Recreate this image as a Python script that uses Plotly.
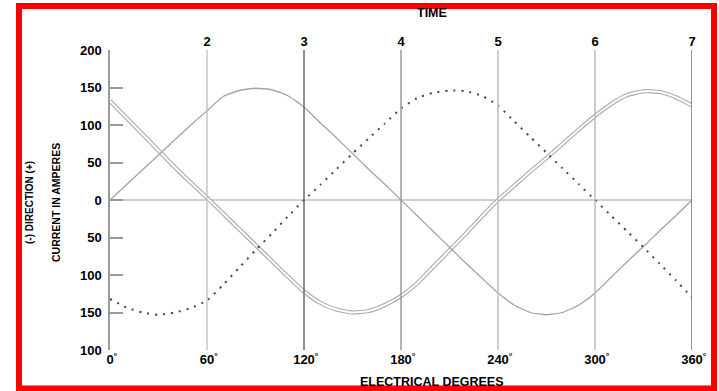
import plotly.graph_objects as go

# ---------------- data ----------------
degrees = [0, 10, 20, 30, 40, 50, 60, 70, 80, 90, 100, 110, 120, 130, 140, 150, 160, 170, 180,
           190, 200, 210, 220, 230, 240, 250, 260, 270, 280, 290, 300, 310, 320, 330, 340, 350, 360]

# single solid gray line
current_a = [0, 20, 40, 60, 80, 100, 119, 138, 146, 149, 147, 139, 124, 103, 83, 62, 41, 21, 0,
             -21, -42, -63, -84, -104, -124, -140, -150, -153, -150, -140, -124, -103, -82, -62, -41, -21, 0]

# double-stroked line
current_b = [132, 110, 88, 66, 44, 23, 3, -18, -39, -60, -81, -102, -122, -137, -146, -150, -148, -140, -128,
             -111, -89, -67, -45, -22, 0, 19, 38, 56, 75, 94, 112, 128, 140, 145, 144, 137, 126]

# dotted line
current_c = [-132, -143, -150, -153, -150, -144, -134, -113, -90, -67, -45, -22, 0, 20, 41, 62, 82, 102, 122,
             136, 143, 146, 145, 139, 126, 105, 84, 63, 42, 21, 0, -21, -42, -63, -85, -107, -130]

time_degrees = [60, 120, 180, 240, 300, 360]
time_labels = ["2", "3", "4", "5", "6", "7"]
time_line_colors = ["#c4c4c4", "#6a6a6a", "#9a9a9a", "#bdbdbd", "#bdbdbd", "#707070"]

x_tick_vals = [0, 60, 120, 180, 240, 300, 360]
y_tick_vals = [-200, -150, -100, -50, 0, 50, 100, 150, 200]
y_tick_text = ["100", "150", "100", "50", "0", "50", "100", "150", "200"]

# ---------------- figure ----------------
W, H = 719, 391
ML, MR, MT, MB = 110, 27, 50, 41
PW, PH = W - ML - MR, H - MT - MB

def px2paper(px, py):
    return (px - ML) / PW, (H - MB - py) / PH

FONT = "Liberation Sans, Arial, Helvetica, sans-serif"

fig = go.Figure()

# vertical time lines on the top axis
for d, c in zip(time_degrees, time_line_colors):
    fig.add_trace(go.Scatter(x=[d, d], y=[-200, 200], xaxis="x2", mode="lines",
                             line=dict(color=c, width=1.5), hoverinfo="skip", showlegend=False))

SPL = dict(shape="spline", smoothing=0.5)
# double line: gray stroke with white core
fig.add_trace(go.Scatter(x=degrees, y=current_b, mode="lines", line=dict(color="#a9a9a9", width=4.2, **SPL),
                         showlegend=False, hoverinfo="skip"))
fig.add_trace(go.Scatter(x=degrees, y=current_b, mode="lines", line=dict(color="white", width=2.0, **SPL),
                         showlegend=False, hoverinfo="skip"))
# single solid line
fig.add_trace(go.Scatter(x=degrees, y=current_a, mode="lines", line=dict(color="#a4a4a4", width=1.3, **SPL),
                         showlegend=False))
# dotted line
fig.add_trace(go.Scatter(x=degrees, y=current_c, mode="lines",
                         line=dict(color="#4a4a4a", width=2, dash="2px,6px", **SPL),
                         showlegend=False))

deg_text = ["<sup><span style='color:rgba(0,0,0,0)'>°</span></sup>%d<sup>°</sup>" % v for v in x_tick_vals]

fig.update_layout(
    width=W, height=H,
    margin=dict(l=ML, r=MR, t=MT, b=MB, pad=0),
    paper_bgcolor="white", plot_bgcolor="white",
    font=dict(family=FONT, color="black"),
    xaxis=dict(range=[0, 360], tickvals=x_tick_vals, ticktext=deg_text, showgrid=False, zeroline=False,
               showline=False, ticks="", tickfont=dict(family=FONT, size=13, weight="bold", color="black")),
    xaxis2=dict(range=[0, 360], overlaying="x", side="top", tickvals=time_degrees, ticktext=time_labels,
                showgrid=False, zeroline=False, showline=False, ticks="",
                tickfont=dict(family=FONT, size=13, weight="bold", color="black")),
    yaxis=dict(range=[-200, 200], tickvals=y_tick_vals, ticktext=y_tick_text, showgrid=False,
               zeroline=True, zerolinecolor="#cfcfcf", zerolinewidth=2,
               showline=True, linecolor="#9a9a9a", linewidth=1.5,
               ticks="inside", ticklen=13, tickwidth=1.5, tickcolor="#9a9a9a",
               ticklabelstandoff=4,
               tickfont=dict(family=FONT, size=13, weight="bold", color="black")),
)

# titles
def ann(text, px, py, size, angle=0):
    x, y = px2paper(px, py)
    fig.add_annotation(text=text, x=x, y=y, xref="paper", yref="paper", showarrow=False,
                       textangle=angle, xanchor="center", yanchor="middle",
                       font=dict(family=FONT, size=size, weight="bold", color="black"))

ann("TIME", 432, 13, 12.5)
ann("ELECTRICAL DEGREES", 432, 382, 12.5)
ann("(-) DIRECTION (+)", 29, 203, 10, -90)
ann("CURRENT IN AMPERES", 56, 203, 10.5, -90)

# red frame
x0, y1 = px2paper(19, 6)
x1, y0 = px2paper(714, 388.5)
fig.add_shape(type="rect", xref="paper", yref="paper", x0=x0, x1=x1, y0=y0, y1=y1,
              line=dict(color="#ff0000", width=6), fillcolor="rgba(0,0,0,0)", layer="above")

fig.write_html("out.html")
